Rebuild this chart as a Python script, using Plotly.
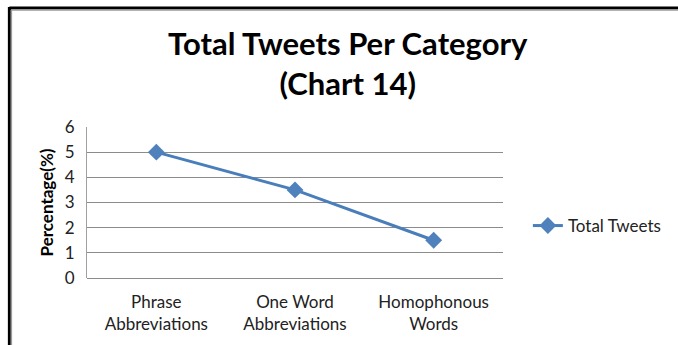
import plotly.graph_objects as go

# Data
categories = ["Phrase<br>Abbreviations", "One Word<br>Abbreviations", "Homophonous<br>Words"]
total_tweets = [5, 3.5, 1.5]
y_ticks = [0, 1, 2, 3, 4, 5, 6]

W, H = 678, 345
L, R, T, B = 87, 173, 127, 67
plot_w = W - L - R
plot_h = H - T - B


def px_x(px):
    return (px - L) / plot_w


def px_y(py):
    return 1 - (py - T) / plot_h


fig = go.Figure()
fig.add_trace(go.Scatter(
    x=categories,
    y=total_tweets,
    mode="lines+markers",
    name="Total Tweets",
    line=dict(color="#4A7EBB", width=3),
    marker=dict(symbol="diamond", size=13, color="#4F81BD"),
))

# Outer chart frame (top and left edges)
frame = [
    dict(x0=px_x(9), x1=px_x(W + 5), y0=px_y(8), y1=px_y(8), color="black", width=3),
    dict(x0=px_x(11), x1=px_x(W + 5), y0=px_y(10), y1=px_y(10), color="#9a9a9a", width=1.5),
    dict(x0=px_x(9), x1=px_x(9), y0=px_y(7), y1=px_y(H + 5), color="black", width=3),
    dict(x0=px_x(11), x1=px_x(11), y0=px_y(10), y1=px_y(H + 5), color="#9a9a9a", width=1.5),
]
for f in frame:
    fig.add_shape(type="line", xref="paper", yref="paper",
                  x0=f["x0"], x1=f["x1"], y0=f["y0"], y1=f["y1"],
                  line=dict(color=f["color"], width=f["width"]))

fig.update_layout(
    width=W, height=H,
    margin=dict(l=L, r=R, t=T, b=B),
    paper_bgcolor="white",
    plot_bgcolor="white",
    title=dict(
        text="<b>Total Tweets Per Category<br>(Chart 14)</b>",
        x=px_x(349), xanchor="center", xref="paper",
        y=1 - 55 / H, yanchor="middle",
        font=dict(family="Lato", size=31, color="black"),
    ),
    font=dict(family="Lato", size=17, color="#222222"),
    xaxis=dict(
        type="category",
        range=[-0.5, 2.5],
        showgrid=False,
        showline=False,
        ticks="",
        ticklabelstandoff=12,
        tickfont=dict(size=17, color="#222222"),
    ),
    yaxis=dict(
        range=[0, 6],
        tickvals=y_ticks,
        showgrid=True,
        gridcolor="#8c8c8c",
        gridwidth=1,
        zeroline=True,
        zerolinecolor="#8c8c8c",
        zerolinewidth=1,
        showline=True,
        linecolor="#a0a0a0",
        linewidth=1,
        ticks="",
        ticklabelstandoff=8,
        tickfont=dict(size=17, color="#222222"),
        title=dict(text="<b>Percentage(%)</b>", font=dict(size=17, color="black"), standoff=6),
    ),
    legend=dict(
        x=px_x(530), xanchor="left",
        y=px_y(226), yanchor="middle",
        font=dict(size=17, color="#222222"),
        bgcolor="rgba(0,0,0,0)",
    ),
    showlegend=True,
)

fig.write_html("out.html")
